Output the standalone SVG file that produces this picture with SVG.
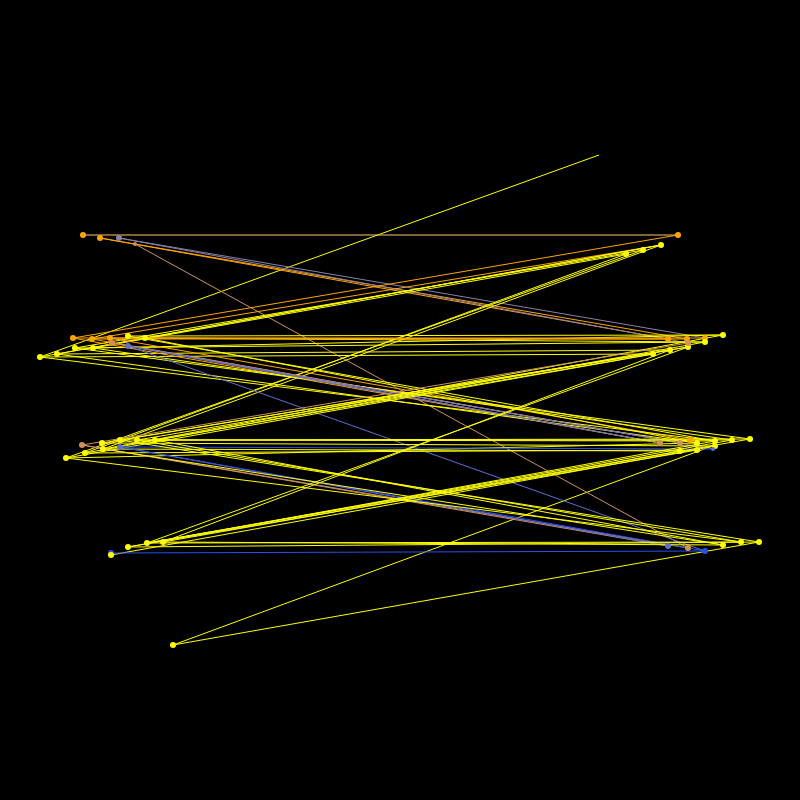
<svg xmlns="http://www.w3.org/2000/svg" width="800" height="800" viewBox="0 0 800 800">
<style>
line{stroke-width:1;fill:none}
.y{stroke:#ffff00}.o{stroke:#ffa500}.t{stroke:#cd9060}.p{stroke:#8a7fa8}.s{stroke:#6070d0}.b{stroke:#2850f0}.lo{stroke:#ffc870}
circle{r:3}
.ny{fill:#ffff00}.no{fill:#ffa500}.nt{fill:#d2915a}.np{fill:#8a7fa8}.ns{fill:#6070d0}.nb{fill:#2850f0}
</style>
<rect width="800" height="800" fill="#000"/>
<g id="connectors">
<line class="y" x1="599" y1="155" x2="40" y2="357"/>
<line class="y" x1="173" y1="645" x2="759" y2="542"/>
<line class="y" x1="173" y1="645" x2="715" y2="445"/>
<line class="lo" x1="83" y1="235" x2="678" y2="235"/>
<line class="o" x1="100" y1="238" x2="668" y2="339"/>
<line class="o" x1="100" y1="238" x2="687" y2="339"/>
<line class="p" x1="119" y1="238" x2="705" y2="338"/>
<line class="p" x1="119" y1="238" x2="688" y2="343"/>
<line class="t" x1="135" y1="244" x2="688" y2="548"/>
<line class="o" x1="73" y1="338" x2="678" y2="235"/>
<line class="o" x1="92" y1="339" x2="661" y2="245"/>
<line class="y" x1="40" y1="357" x2="661" y2="245"/>
<line class="y" x1="57" y1="354" x2="661" y2="245"/>
<line class="y" x1="75" y1="348" x2="643" y2="250"/>
<line class="y" x1="93" y1="348" x2="626" y2="254"/>
<line class="y" x1="66" y1="458" x2="643" y2="250"/>
<line class="y" x1="85" y1="453" x2="626" y2="254"/>
<line class="y" x1="103" y1="449" x2="661" y2="245"/>
<line class="y" x1="128" y1="336" x2="723" y2="335"/>
<line class="y" x1="145" y1="338" x2="705" y2="342"/>
<line class="y" x1="75" y1="348" x2="705" y2="342"/>
<line class="y" x1="93" y1="348" x2="723" y2="335"/>
<line class="y" x1="40" y1="357" x2="653" y2="354"/>
<line class="y" x1="57" y1="354" x2="670" y2="350"/>
<line class="o" x1="73" y1="338" x2="705" y2="338"/>
<line class="o" x1="92" y1="339" x2="687" y2="339"/>
<line class="o" x1="110" y1="338" x2="668" y2="339"/>
<line class="o" x1="110" y1="338" x2="690" y2="440"/>
<line class="o" x1="73" y1="338" x2="660" y2="443"/>
<line class="o" x1="92" y1="339" x2="680" y2="443"/>
<line class="y" x1="75" y1="348" x2="750" y2="439"/>
<line class="y" x1="93" y1="348" x2="732" y2="440"/>
<line class="y" x1="128" y1="336" x2="715" y2="441"/>
<line class="y" x1="145" y1="338" x2="697" y2="443"/>
<line class="y" x1="57" y1="354" x2="697" y2="443"/>
<line class="y" x1="40" y1="357" x2="715" y2="441"/>
<line class="t" x1="112" y1="343" x2="680" y2="443"/>
<line class="t" x1="112" y1="343" x2="660" y2="443"/>
<line class="s" x1="128" y1="346" x2="660" y2="443"/>
<line class="s" x1="128" y1="346" x2="713" y2="449"/>
<line class="s" x1="128" y1="346" x2="705" y2="551"/>
<line class="y" x1="102" y1="443" x2="688" y2="347"/>
<line class="y" x1="120" y1="440" x2="670" y2="350"/>
<line class="y" x1="66" y1="458" x2="653" y2="354"/>
<line class="y" x1="85" y1="453" x2="705" y2="342"/>
<line class="y" x1="103" y1="449" x2="723" y2="335"/>
<line class="y" x1="137" y1="440" x2="688" y2="347"/>
<line class="y" x1="155" y1="440" x2="653" y2="354"/>
<line class="t" x1="82" y1="445" x2="688" y2="343"/>
<line class="y" x1="120" y1="440" x2="750" y2="439"/>
<line class="y" x1="137" y1="440" x2="732" y2="440"/>
<line class="y" x1="155" y1="440" x2="715" y2="441"/>
<line class="y" x1="102" y1="443" x2="715" y2="446"/>
<line class="y" x1="85" y1="453" x2="697" y2="450"/>
<line class="y" x1="103" y1="449" x2="680" y2="451"/>
<line class="y" x1="66" y1="458" x2="697" y2="443"/>
<line class="b" x1="120" y1="447" x2="713" y2="449"/>
<line class="t" x1="82" y1="445" x2="688" y2="548"/>
<line class="t" x1="82" y1="445" x2="668" y2="546"/>
<line class="s" x1="120" y1="447" x2="668" y2="546"/>
<line class="b" x1="120" y1="447" x2="705" y2="551"/>
<line class="y" x1="120" y1="440" x2="759" y2="542"/>
<line class="y" x1="137" y1="440" x2="741" y2="542"/>
<line class="y" x1="155" y1="440" x2="723" y2="545"/>
<line class="y" x1="103" y1="449" x2="723" y2="545"/>
<line class="y" x1="66" y1="458" x2="741" y2="542"/>
<line class="y" x1="111" y1="555" x2="715" y2="446"/>
<line class="y" x1="128" y1="547" x2="697" y2="450"/>
<line class="y" x1="147" y1="543" x2="680" y2="451"/>
<line class="y" x1="163" y1="542" x2="750" y2="439"/>
<line class="y" x1="128" y1="547" x2="715" y2="441"/>
<line class="y" x1="147" y1="543" x2="732" y2="440"/>
<line class="y" x1="128" y1="547" x2="759" y2="542"/>
<line class="y" x1="147" y1="543" x2="741" y2="542"/>
<line class="y" x1="163" y1="542" x2="723" y2="545"/>
<line class="b" x1="111" y1="553" x2="705" y2="551"/>
<line class="y" x1="688" y1="347" x2="147" y2="543"/>
<line class="y" x1="670" y1="350" x2="163" y2="542"/>
</g>
<g id="nQ"><circle class="ny" cx="173" cy="645"/></g>
<g id="nA1"><circle class="no" cx="83" cy="235"/></g>
<g id="nA2"><circle class="no" cx="100" cy="238"/></g>
<g id="nA3"><circle class="np" cx="119" cy="238"/></g>
<g id="nA4"><circle class="nt" cx="135" cy="244" style="r:2"/></g>
<g id="nB1"><circle class="no" cx="678" cy="235"/></g>
<g id="nB2"><circle class="ny" cx="661" cy="245"/></g>
<g id="nB3"><circle class="ny" cx="643" cy="250"/></g>
<g id="nB4"><circle class="ny" cx="626" cy="254"/></g>
<g id="nC1"><circle class="no" cx="73" cy="338"/></g>
<g id="nC2"><circle class="no" cx="92" cy="339"/></g>
<g id="nC3"><circle class="no" cx="110" cy="338"/></g>
<g id="nC4"><circle class="ny" cx="128" cy="336"/></g>
<g id="nC5"><circle class="ny" cx="145" cy="338"/></g>
<g id="nC6"><circle class="ny" cx="40" cy="357"/></g>
<g id="nC7"><circle class="ny" cx="57" cy="354"/></g>
<g id="nC8"><circle class="ny" cx="75" cy="348"/></g>
<g id="nC9"><circle class="ny" cx="93" cy="348"/></g>
<g id="nC10"><circle class="ns" cx="128" cy="346"/></g>
<g id="nC11"><circle class="nt" cx="112" cy="343"/></g>
<g id="nD1"><circle class="ny" cx="723" cy="335"/></g>
<g id="nD2"><circle class="no" cx="705" cy="338"/></g>
<g id="nD3"><circle class="no" cx="687" cy="339"/></g>
<g id="nD4"><circle class="no" cx="668" cy="339"/></g>
<g id="nD5"><circle class="ny" cx="705" cy="342"/></g>
<g id="nD6"><circle class="ny" cx="688" cy="347"/></g>
<g id="nD7"><circle class="ny" cx="670" cy="350"/></g>
<g id="nD8"><circle class="ny" cx="653" cy="354"/></g>
<g id="nD9"><circle class="nt" cx="688" cy="343"/></g>
<g id="nE1"><circle class="nt" cx="82" cy="445"/></g>
<g id="nE2"><circle class="ny" cx="102" cy="443"/></g>
<g id="nE3"><circle class="ny" cx="120" cy="440"/></g>
<g id="nE4"><circle class="ny" cx="137" cy="440"/></g>
<g id="nE5"><circle class="ny" cx="155" cy="440"/></g>
<g id="nE6"><circle class="ny" cx="66" cy="458"/></g>
<g id="nE7"><circle class="ny" cx="85" cy="453"/></g>
<g id="nE8"><circle class="ny" cx="103" cy="449"/></g>
<g id="nE9"><circle class="ns" cx="120" cy="447"/></g>
<g id="nF1"><circle class="ny" cx="750" cy="439"/></g>
<g id="nF2"><circle class="ny" cx="732" cy="440"/></g>
<g id="nF3"><circle class="ny" cx="715" cy="441"/></g>
<g id="nF4"><circle class="ny" cx="697" cy="443"/></g>
<g id="nF5"><circle class="nt" cx="680" cy="443"/></g>
<g id="nF6"><circle class="nt" cx="660" cy="443"/></g>
<g id="nF7"><circle class="ny" cx="715" cy="446"/></g>
<g id="nF8"><circle class="ny" cx="697" cy="450"/></g>
<g id="nF9"><circle class="ny" cx="680" cy="451"/></g>
<g id="nF10"><circle class="no" cx="690" cy="440"/></g>
<g id="nF11"><circle class="ns" cx="713" cy="449" style="r:2"/></g>
<g id="nG1"><circle class="nb" cx="111" cy="553"/></g>
<g id="nG2"><circle class="ny" cx="111" cy="555"/></g>
<g id="nG3"><circle class="ny" cx="128" cy="547"/></g>
<g id="nG4"><circle class="ny" cx="147" cy="543"/></g>
<g id="nG5"><circle class="ny" cx="163" cy="542"/></g>
<g id="nH1"><circle class="ny" cx="759" cy="542"/></g>
<g id="nH2"><circle class="ny" cx="741" cy="542"/></g>
<g id="nH3"><circle class="ny" cx="723" cy="545"/></g>
<g id="nH4"><circle class="nb" cx="705" cy="551"/></g>
<g id="nH5"><circle class="nt" cx="688" cy="548"/></g>
<g id="nH6"><circle class="ns" cx="668" cy="546"/></g>
</svg>
